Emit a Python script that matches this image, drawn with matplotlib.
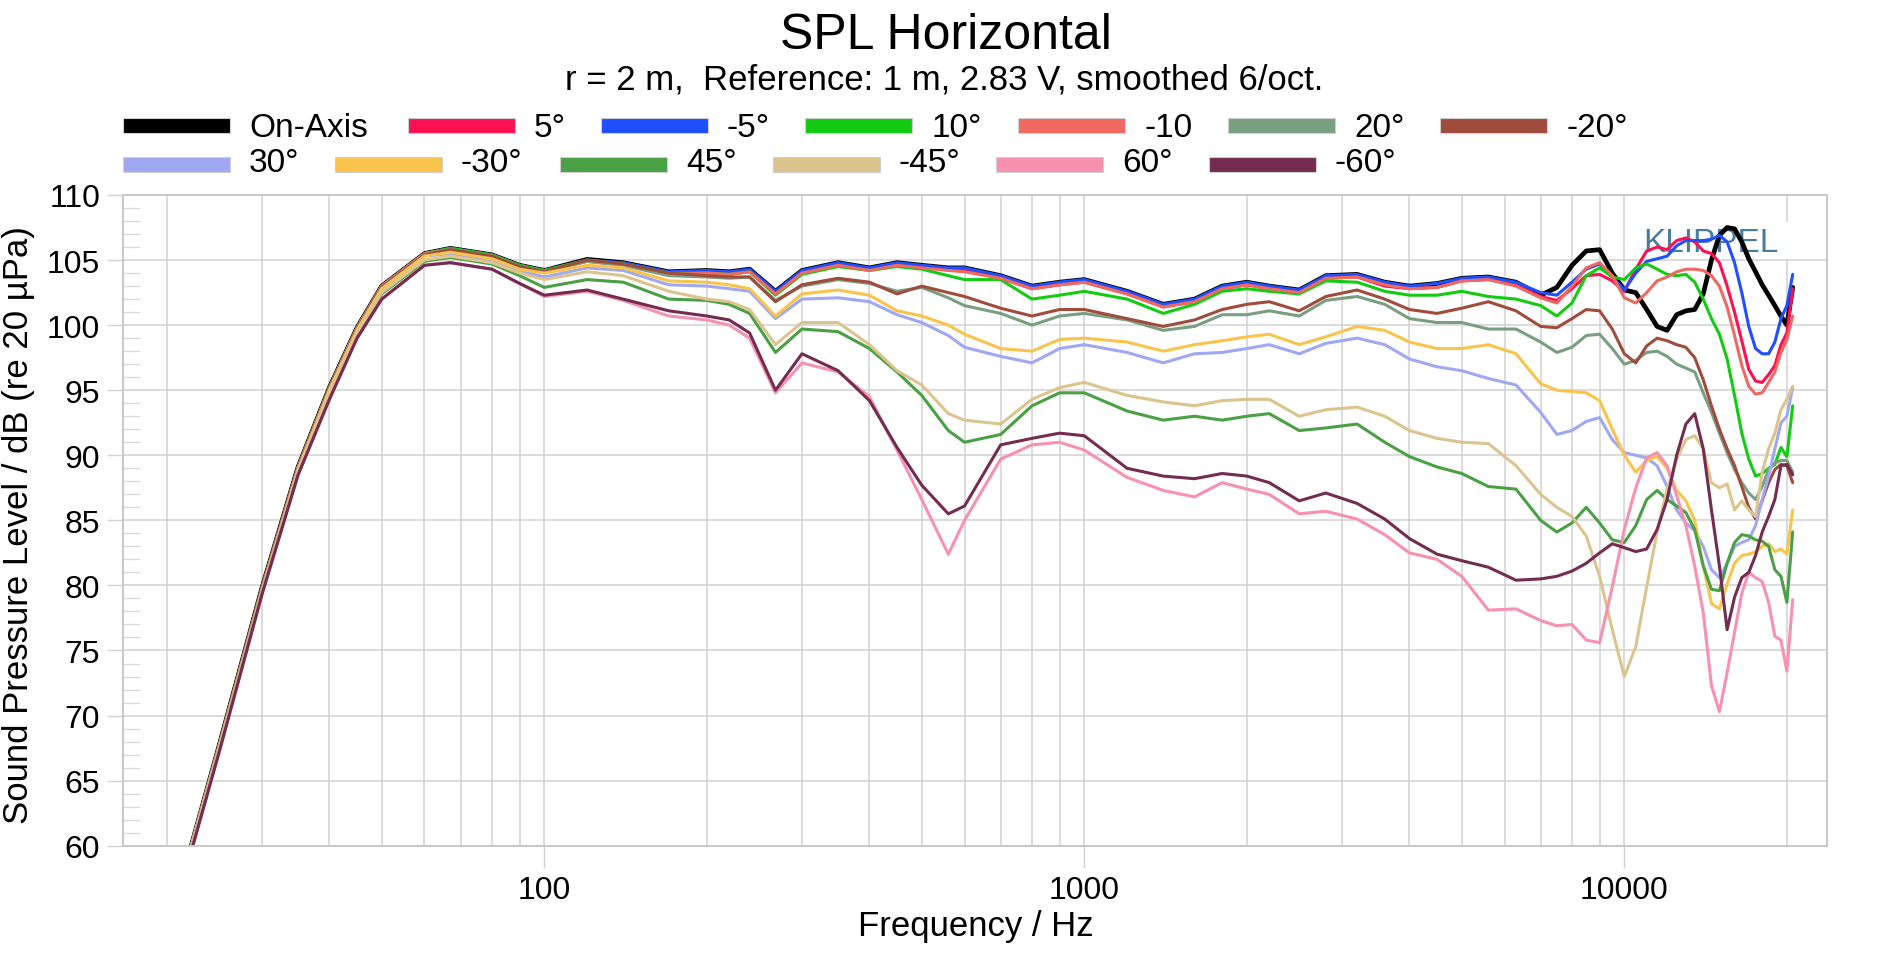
import matplotlib
matplotlib.use('Agg')
import matplotlib.pyplot as plt
from matplotlib.patches import Rectangle
from matplotlib.ticker import FixedLocator, FixedFormatter, NullFormatter, MultipleLocator

plt.rcParams['font.family'] = ['Liberation Sans', 'DejaVu Sans']

# ---------------- data ----------------
freq = [20, 22, 25, 30, 35, 40, 45, 50, 60, 67, 80, 90, 100, 120, 140, 170,
        200, 220, 240, 268, 300, 350, 400, 450, 500, 560, 600, 700, 800, 900, 1000, 1200, 1400, 1600, 1800,
        2000, 2200, 2500, 2800, 3200, 3600, 4000, 4500, 5000, 5600, 6300,
        7000, 7500, 8000, 8500, 9000, 9500, 10000, 10500, 11000, 11500, 12000, 12500, 13000, 13500,
        14000, 14500, 15000, 15500, 16000, 16500, 17000, 17500, 18000, 18500, 19000, 19500, 20000, 20500]

on_axis = [53.0, 59.4, 67.7, 79.8, 89.1, 95.2, 99.8, 103.0, 105.5, 105.9, 105.4, 104.6, 104.2, 105.05, 104.8, 104.1,
           104.2, 104.1, 104.3, 102.6, 104.2, 104.8, 104.4, 104.8, 104.6, 104.4, 104.4, 103.8, 103.0, 103.3, 103.5, 102.6, 101.6, 102.0, 103.0,
           103.3, 103.0, 102.7, 103.8, 103.9, 103.3, 103.0, 103.2, 103.6, 103.7, 103.3,
           102.3, 102.9, 104.6, 105.7, 105.8, 104.0, 102.7, 102.5, 101.2, 99.9, 99.6, 100.8, 101.1, 101.2,
           102.4, 105.0, 106.9, 107.5, 107.4, 106.4, 105.1, 104.1, 103.1, 102.3, 101.5, 100.7, 100.0, 102.9]
deg_p5 = [53.0, 59.4, 67.7, 79.8, 89.1, 95.2, 99.8, 103.0, 105.5, 105.9, 105.4, 104.6, 104.2, 105.0, 104.7, 104.0,
          104.1, 104.0, 104.2, 102.5, 104.1, 104.7, 104.3, 104.6, 104.5, 104.3, 104.3, 103.6, 102.8, 103.1, 103.3, 102.4, 101.4, 101.8, 102.8,
          103.1, 102.8, 102.5, 103.6, 103.7, 103.0, 102.8, 102.9, 103.4, 103.5, 103.1,
          102.2, 101.9, 102.8, 103.8, 103.9, 103.4, 102.6, 104.3, 105.7, 106.0, 105.8, 106.5, 106.7, 106.4,
          105.7, 105.5, 104.8, 103.0, 101.0, 98.8, 96.6, 95.7, 95.6, 96.2, 96.9, 98.5, 99.4, 102.8]
deg_m5 = [53.0, 59.4, 67.7, 79.8, 89.1, 95.2, 99.8, 103.0, 105.5, 105.9, 105.4, 104.6, 104.2, 105.0, 104.8, 104.1,
          104.2, 104.1, 104.3, 102.6, 104.2, 104.8, 104.4, 104.8, 104.6, 104.4, 104.4, 103.8, 103.0, 103.3, 103.5, 102.6, 101.6, 102.0, 103.0,
          103.3, 103.0, 102.7, 103.8, 103.9, 103.3, 103.0, 103.2, 103.6, 103.7, 103.3,
          102.5, 102.3, 103.3, 104.3, 104.7, 103.7, 102.7, 104.0, 104.9, 105.1, 105.3, 106.1, 106.5, 106.5,
          106.5, 106.6, 106.9, 106.4, 104.8, 102.5, 99.9, 98.2, 97.8, 97.8, 98.7, 100.5, 101.5, 103.9]
deg_p10 = [53.0, 59.4, 67.7, 79.8, 89.1, 95.2, 99.8, 103.0, 105.5, 105.9, 105.4, 104.6, 104.2, 105.0, 104.7, 104.0,
           104.0, 103.9, 104.1, 102.3, 103.9, 104.5, 104.2, 104.5, 104.3, 103.8, 103.5, 103.5, 102.0, 102.3, 102.6, 102.0, 100.9, 101.6, 102.6,
           102.8, 102.6, 102.4, 103.4, 103.3, 102.6, 102.3, 102.3, 102.6, 102.2, 102.0,
           101.5, 100.7, 101.7, 103.8, 104.4, 103.7, 103.5, 104.4, 104.7, 104.3, 103.9, 103.8, 103.9, 103.3,
           102.0, 100.5, 99.3, 97.4, 94.6, 91.7, 89.7, 88.4, 88.6, 89.0, 89.3, 90.6, 89.9, 93.8]
deg_m10 = [53.0, 59.4, 67.7, 79.8, 89.1, 95.2, 99.8, 103.0, 105.5, 105.8, 105.3, 104.5, 104.1, 104.9, 104.6, 103.9,
           104.0, 103.9, 104.1, 102.4, 104.0, 104.6, 104.2, 104.6, 104.4, 104.2, 104.1, 103.6, 102.8, 103.1, 103.3, 102.4, 101.4, 101.8, 102.8,
           103.1, 102.8, 102.5, 103.6, 103.7, 103.1, 102.8, 102.9, 103.4, 103.5, 103.0,
           102.1, 101.7, 103.0, 104.4, 104.8, 103.8, 102.1, 101.7, 102.5, 103.4, 103.7, 104.1, 104.3, 104.3,
           104.2, 103.8, 103.0, 101.4, 99.2, 96.9, 95.3, 94.7, 94.8, 95.6, 96.4, 97.9, 98.9, 100.7]
deg_p20 = [53.0, 59.4, 67.7, 79.7, 89.0, 95.1, 99.7, 102.9, 105.4, 105.8, 105.3, 104.5, 104.1, 104.9, 104.6, 103.8,
           103.7, 103.6, 103.7, 101.9, 103.0, 103.5, 103.2, 102.6, 102.9, 102.1, 101.5, 100.9, 100.0, 100.7, 100.9, 100.4, 99.6, 99.9, 100.8,
           100.8, 101.1, 100.7, 101.9, 102.2, 101.6, 100.5, 100.2, 100.2, 99.7, 99.7,
           98.7, 97.9, 98.3, 99.2, 99.3, 98.2, 97.0, 97.3, 97.9, 98.0, 97.6, 97.0, 96.7, 96.4,
           94.8, 93.3, 91.7, 90.2, 88.9, 87.9, 87.1, 86.6, 87.6, 88.9, 89.4, 89.6, 89.6, 88.7]
deg_m20 = [53.0, 59.4, 67.7, 79.7, 89.0, 95.1, 99.7, 102.9, 105.4, 105.8, 105.3, 104.5, 104.1, 105.0, 104.7, 104.0,
           103.8, 103.7, 103.7, 101.8, 103.1, 103.6, 103.3, 102.4, 103.0, 102.5, 102.2, 101.3, 100.7, 101.2, 101.2, 100.5, 99.9, 100.4, 101.2,
           101.6, 101.8, 101.1, 102.2, 102.7, 102.0, 101.2, 100.9, 101.3, 101.8, 101.1,
           99.9, 99.8, 100.5, 101.2, 101.1, 99.7, 97.8, 97.1, 98.4, 99.0, 98.8, 98.5, 98.3, 97.5,
           95.8, 93.8, 92.0, 90.5, 89.2, 87.6, 86.0, 85.1, 86.5, 87.9, 88.9, 89.3, 89.2, 87.9]
deg_p30 = [53.0, 59.4, 67.6, 79.6, 88.9, 95.0, 99.6, 102.8, 105.3, 105.5, 105.0, 104.2, 103.7, 104.4, 104.2, 103.1,
           103.0, 102.8, 102.6, 100.5, 102.0, 102.1, 101.8, 100.8, 100.2, 99.2, 98.3, 97.6, 97.1, 98.2, 98.5, 97.9, 97.1, 97.8, 97.9,
           98.2, 98.5, 97.8, 98.6, 99.0, 98.5, 97.4, 96.8, 96.5, 95.9, 95.4,
           93.3, 91.6, 91.9, 92.6, 92.9, 91.2, 90.2, 90.0, 89.8, 89.2, 87.6, 85.8, 84.8, 84.2,
           83.0, 81.2, 80.6, 81.7, 83.0, 83.3, 83.5, 84.6, 86.6, 88.4, 90.5, 92.5, 93.0, 95.2]
deg_m30 = [53.0, 59.4, 67.6, 79.6, 88.9, 95.0, 99.6, 102.8, 105.3, 105.6, 105.1, 104.3, 104.0, 104.6, 104.4, 103.4,
           103.3, 103.1, 102.8, 100.7, 102.4, 102.7, 102.3, 101.1, 100.7, 100.0, 99.3, 98.2, 98.0, 98.9, 99.0, 98.7, 98.0, 98.5, 98.8,
           99.1, 99.3, 98.5, 99.1, 99.9, 99.6, 98.7, 98.2, 98.2, 98.5, 97.8,
           95.5, 95.0, 94.9, 94.8, 94.2, 92.0, 90.0, 88.7, 89.6, 89.9, 89.0, 87.3, 86.5, 85.0,
           81.5, 78.6, 78.2, 80.1, 81.7, 82.3, 82.4, 82.6, 83.0, 83.2, 82.6, 82.8, 82.4, 85.8]
deg_p45 = [53.0, 59.3, 67.5, 79.5, 88.7, 94.7, 99.3, 102.4, 104.9, 105.2, 104.7, 103.8, 102.9, 103.5, 103.3, 102.0,
           101.9, 101.6, 100.9, 97.9, 99.7, 99.5, 98.2, 96.4, 94.6, 91.9, 91.0, 91.6, 93.8, 94.8, 94.8, 93.4, 92.7, 93.0, 92.7,
           93.0, 93.2, 91.9, 92.1, 92.4, 91.0, 89.9, 89.1, 88.6, 87.6, 87.4,
           85.0, 84.1, 84.8, 86.0, 84.8, 83.5, 83.3, 84.6, 86.6, 87.3, 86.6, 86.1, 85.6, 84.3,
           81.5, 79.7, 79.6, 81.7, 83.3, 83.9, 83.8, 83.5, 83.4, 83.0, 81.2, 80.7, 78.7, 84.1]
deg_m45 = [53.0, 59.3, 67.5, 79.5, 88.8, 94.8, 99.4, 102.5, 105.0, 105.3, 104.8, 104.0, 103.5, 104.1, 103.8, 102.6,
           102.0, 101.8, 101.2, 98.5, 100.2, 100.2, 98.5, 96.5, 95.4, 93.2, 92.7, 92.4, 94.3, 95.2, 95.6, 94.6, 94.1, 93.8, 94.2,
           94.3, 94.3, 93.0, 93.5, 93.7, 93.0, 91.9, 91.3, 91.0, 90.9, 89.2,
           87.0, 86.0, 85.3, 83.8, 80.7, 76.6, 73.0, 75.3, 79.9, 84.1, 87.4, 89.7, 91.2, 91.5,
           90.5, 87.9, 87.5, 87.8, 85.8, 86.5, 85.8, 85.3, 88.7, 90.5, 91.7, 93.5, 94.3, 95.3]
deg_p60 = [53.0, 59.0, 67.2, 79.3, 88.5, 94.3, 99.0, 102.0, 104.6, 104.8, 104.3, 103.2, 102.2, 102.6, 101.9, 100.7,
           100.4, 100.0, 99.0, 94.8, 97.1, 96.4, 94.5, 90.4, 86.6, 82.4, 85.0, 89.7, 90.8, 91.0, 90.4, 88.3, 87.3, 86.8, 87.9,
           87.4, 87.0, 85.5, 85.7, 85.1, 83.9, 82.5, 82.0, 80.7, 78.1, 78.2,
           77.3, 76.9, 77.0, 75.8, 75.6, 79.9, 84.3, 87.5, 89.8, 90.2, 89.2, 86.9, 84.6, 81.5,
           77.9, 72.3, 70.3, 73.3, 76.4, 79.4, 81.0, 80.6, 80.3, 78.7, 76.1, 75.8, 73.4, 78.9]
deg_m60 = [53.0, 59.0, 67.2, 79.3, 88.5, 94.3, 99.0, 102.0, 104.6, 104.8, 104.3, 103.2, 102.3, 102.7, 102.0, 101.1,
           100.7, 100.4, 99.4, 95.0, 97.8, 96.5, 94.2, 90.6, 87.7, 85.5, 86.1, 90.8, 91.3, 91.7, 91.5, 89.0, 88.4, 88.2, 88.6,
           88.4, 87.9, 86.5, 87.1, 86.3, 85.1, 83.6, 82.4, 81.9, 81.4, 80.4,
           80.5, 80.7, 81.1, 81.7, 82.5, 83.2, 82.9, 82.6, 82.8, 84.3, 86.6, 90.0, 92.4, 93.2,
           90.5, 85.8, 81.5, 76.6, 79.1, 80.6, 81.0, 82.3, 84.1, 85.3, 86.6, 89.2, 89.3, 88.5]

labels = ['On-Axis', '5°', '-5°', '10°', '-10', '20°', '-20°',
          '30°', '-30°', '45°', '-45°', '60°', '-60°']
colors = ['#000000', '#ff1052', '#1f4fff', '#12cc12', '#f06862', '#7a9e82', '#a04c3c',
          '#a0a8f4', '#f8c44c', '#4aa044', '#dcc48e', '#f890b0', '#742c50']
series = [on_axis, deg_p5, deg_m5, deg_p10, deg_m10, deg_p20, deg_m20,
          deg_p30, deg_m30, deg_p45, deg_m45, deg_p60, deg_m60]
y_ticks = [60, 65, 70, 75, 80, 85, 90, 95, 100, 105, 110]
x_ticks = [100, 1000, 10000]
x_tick_labels = ['100', '1000', '10000']

title = 'SPL Horizontal'
subtitle = 'r = 2 m,  Reference: 1 m, 2.83 V, smoothed 6/oct.'
xlabel = 'Frequency / Hz'
ylabel = 'Sound Pressure Level / dB (re 20 µPa)'
watermark = 'KLIPPEL'

# ---------------- layout ----------------
W, H = 1895, 954
fig = plt.figure(figsize=(W / 100, H / 100), dpi=100)
fig.patch.set_facecolor('white')


def fx(px):
    return px / W


def fy(py):
    return 1 - py / H


AX_L, AX_R, AX_T, AX_B = 123, 1826.5, 196, 846.7
ax = fig.add_axes([fx(AX_L), fy(AX_B), (AX_R - AX_L) / W, (AX_B - AX_T) / H])
ax.set_axisbelow(True)

for i, (lab, col, vals) in enumerate(zip(labels, colors, series)):
    lw = 3.4 if i == 0 else 2.2
    ax.plot(freq, vals, color=col, lw=lw, solid_joinstyle='round',
            solid_capstyle='round', zorder=2 + i * 0.01)

ax.set_xscale('log')
ax.set_xlim(16.59, 23680)
ax.set_ylim(60, 110)

grid_col = '#d2d2d2'
ax.xaxis.set_major_locator(FixedLocator(x_ticks))
ax.xaxis.set_major_formatter(FixedFormatter(x_tick_labels))
minor_x = [d * k for d in (10, 100, 1000, 10000) for k in range(2, 10) if 16.59 < d * k < 23680]
ax.xaxis.set_minor_locator(FixedLocator(minor_x))
ax.xaxis.set_minor_formatter(NullFormatter())
ax.tick_params(axis='x', which='major', direction='out', length=16, width=1.0,
               color=grid_col, pad=5, labelsize=23)
ax.tick_params(axis='x', which='minor', length=0)

ax.yaxis.set_major_locator(FixedLocator(y_ticks))
ax.yaxis.set_minor_locator(MultipleLocator(1))
ax.tick_params(axis='y', which='major', direction='out', length=11.5, width=1.0,
               color=grid_col, pad=5, labelsize=23)
ax.tick_params(axis='y', which='minor', direction='in', length=12, width=0.9,
               color='#dadada')

ax.grid(True, which='both', axis='x', color=grid_col, lw=1.1)
ax.grid(True, which='major', axis='y', color=grid_col, lw=1.1)
for sp in ax.spines.values():
    sp.set_color('#c8c8c8')
    sp.set_linewidth(1.4)

# watermark with white box (lines pass over it)
ax.add_patch(Rectangle(((1625 - AX_L) / (AX_R - AX_L), 1 - (260 - AX_T) / (AX_B - AX_T)),
                       (1790 - 1625) / (AX_R - AX_L), (260 - 223) / (AX_B - AX_T),
                       transform=ax.transAxes, facecolor='white', edgecolor='none', zorder=1))
ax.text((1643 - AX_L) / (AX_R - AX_L), 1 - (252 - AX_T) / (AX_B - AX_T), watermark,
        transform=ax.transAxes, ha='left', va='baseline', fontsize=24,
        color='#4a7ca0', zorder=1.1)

# titles and axis labels
fig.text(fx(946), fy(49), title, ha='center', va='baseline', fontsize=36)
fig.text(fx(944.5), fy(90), subtitle, ha='center', va='baseline', fontsize=25)
fig.text(fx(976), fy(936), xlabel, ha='center', va='baseline', fontsize=25)
fig.text(fx(19), fy(525), ylabel, ha='center', va='center', rotation=90, fontsize=25)

# legend (two rows, flow positions as in the reference)
rows = [
    ([123, 408, 601, 805, 1018, 1228, 1440], 126, 137, range(0, 7)),
    ([123, 335, 560, 773, 996, 1209], 165, 172, range(7, 13)),
]
HW, HH = 107, 15
for xs, yc, ybase, idxs in rows:
    for x0, i in zip(xs, idxs):
        fig.patches.append(Rectangle((fx(x0), fy(yc + HH / 2)), HW / W, HH / H,
                                     transform=fig.transFigure, facecolor=colors[i],
                                     edgecolor='#cfcfcf', lw=0.8))
        fig.text(fx(x0 + HW + 19), fy(ybase), labels[i], ha='left', va='baseline', fontsize=24)

fig.savefig('out.png', dpi=100, facecolor='white')
